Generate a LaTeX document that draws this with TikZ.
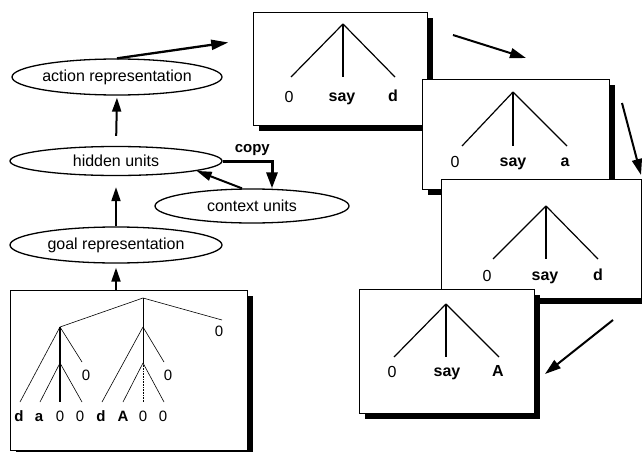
\documentclass[tikz,border=0pt]{standalone}
\usepackage{fontspec}
\setmainfont{Liberation Sans}
\usetikzlibrary{shapes.geometric,arrows.meta,shadows}

\begin{document}
\begin{tikzpicture}[x=1pt,y=-1pt,
  unit/.style={ellipse, draw, line width=1.3pt, inner sep=0pt, inner xsep=-2pt,
    font=\fontsize{16}{16}\selectfont},
  panel/.style={draw, line width=0.8pt, fill=white, inner sep=0pt, anchor=north west,
    drop shadow={shadow xshift=6pt, shadow yshift=-6pt, fill=black, opacity=1}},
  flow/.style={line width=2pt, -{Triangle[length=14pt,width=9pt]}},
  copyflow/.style={line width=3pt, -{Triangle[length=16pt,width=11pt]}},
  leg/.style={line width=1.2pt},
  twig/.style={line width=0.6pt},
  stem/.style={line width=1.1pt},
  num/.style={anchor=base, inner sep=0pt, font=\fontsize{16}{16}\selectfont},
  sym/.style={anchor=base, inner sep=0pt, font=\bfseries\fontsize{16}{16}\selectfont},
  tnum/.style={anchor=base, inner sep=0pt, font=\fontsize{15}{15}\selectfont},
  tsym/.style={anchor=base, inner sep=0pt, font=\bfseries\fontsize{15}{15}\selectfont},
]
\useasboundingbox (0,0) rectangle (642,452);

% ---------------- network ----------------
\node[unit, minimum width=210pt, minimum height=36pt] (act)  at (117,77)  {action representation};
\node[unit, minimum width=212pt, minimum height=29pt] (hid)  at (116,161) {hidden units};
\node[unit, minimum width=194pt, minimum height=34pt] (ctx)  at (252,206) {context units};
\node[unit, minimum width=212pt, minimum height=36pt] (goal) at (116,245) {goal representation};

% ---------------- goal structure ----------------
\node[panel, minimum width=237pt, minimum height=160pt] (goaltree) at (10,290) {};
\coordinate (r)  at (143,298);
\coordinate (l)  at (60,327);
\coordinate (li) at (60,363);
\coordinate (m)  at (143,327);
\coordinate (mi) at (143,363);
\draw[twig] (r) -- (l);
\draw[twig] (r) -- (m);
\draw[twig] (r) -- (222,320);
\draw[twig] (l) -- (20,402);
\draw[stem] (l) -- (li);
\draw[twig] (l) -- (82,362);
\draw[twig] (li) -- (40,402);
\draw[stem] (li) -- (60,402);
\draw[twig] (li) -- (82,402);
\draw[twig] (m) -- (102,402);
\draw[twig] (m) -- (mi);
\draw[twig] (m) -- (164,362);
\draw[twig] (mi) -- (123,402);
\draw[twig, densely dotted] (mi) -- (143,402);
\draw[twig] (mi) -- (164,402);
\node[tnum] (g0)  at (219,336) {0};
\node[tnum] (g1)  at (86,380)  {0};
\node[tnum] (g2)  at (168,380) {0};
\node[tsym] (g3)  at (19,421)  {d};
\node[tsym] (g4)  at (39,421)  {a};
\node[tnum] (g5)  at (60,421)  {0};
\node[tnum] (g6)  at (80,421)  {0};
\node[tsym] (g7)  at (101,421) {d};
\node[tsym] (g8)  at (123,421) {A};
\node[tnum] (g9)  at (143,421) {0};
\node[tnum] (g10) at (163,421) {0};

% ---------------- action sequence ----------------
\node[panel, minimum width=174pt, minimum height=113pt] (box1) at (253,12) {};
\draw[leg] (343,24) -- (291,77);
\draw[leg] (343,24) -- (343,77);
\draw[leg] (343,24) -- (395,77);
\node[num] (b1a) at (289,102) {0};
\node[sym] (b1b) at (342,101) {say};
\node[sym] (b1c) at (393,101) {d};

\node[panel, minimum width=187pt, minimum height=110pt] (box2) at (422,79) {};
\draw[leg] (513,92) -- (462,146);
\draw[leg] (513,92) -- (513,146);
\draw[leg] (513,92) -- (567,146);
\node[num] (b2a) at (455,167) {0};
\node[sym] (b2b) at (513,166) {say};
\node[sym] (b2c) at (565,166) {a};

\node[panel, minimum width=200pt, minimum height=119pt] (box3) at (441,179) {};
\draw[leg] (546,206) -- (493,259);
\draw[leg] (546,206) -- (546,259);
\draw[leg] (546,206) -- (598,259);
\node[num] (b3a) at (487,281) {0};
\node[sym] (b3b) at (545,280) {say};
\node[sym] (b3c) at (598,280) {d};

\node[panel, minimum width=175pt, minimum height=124pt] (box4) at (359,289) {};
\draw[leg] (446,304) -- (394,357);
\draw[leg] (446,304) -- (446,357);
\draw[leg] (446,304) -- (499,357);
\node[num] (b4a) at (392,377) {0};
\node[sym] (b4b) at (447,376) {say};
\node[sym] (b4c) at (498,376) {A};

% ---------------- connectors ----------------
\draw[flow, shorten >=4pt] (goal.south |- goaltree.north) -- (goal.south);
\draw[flow, shorten >=11pt] (goal.north) -- (hid.south);
\draw[flow, shorten <=10pt, shorten >=2pt] (hid.north) -- (act.south);
\draw[flow, line width=2.3pt, -{Triangle[length=17pt,width=10pt]}, shorten >=25pt]
  (act.north) -- ([yshift=30pt]box1.west);
\draw[copyflow] (hid.east) -| ([xshift=20pt]ctx.north)
  node[pos=0.3, above=1pt, font=\bfseries\fontsize{15}{15}\selectfont] (copylbl) {copy};
\draw[flow, -{Triangle[length=15pt,width=9pt]}] ([xshift=-10pt]ctx.north) -- (hid.-7);

\coordinate (s12) at (453,35);
\coordinate (e12) at (526,58);
\coordinate (s23) at (622,103);
\coordinate (e23) at (641,175);
\coordinate (s34) at (613,320);
\coordinate (e34) at (545,374);
\draw[flow, -{Triangle[length=16pt,width=10pt]}] (s12) -- (e12);
\draw[flow, -{Triangle[length=16pt,width=10pt]}] (s23) -- (e23);
\draw[flow, -{Triangle[length=16pt,width=10pt]}] (s34) -- (e34);
\end{tikzpicture}
\end{document}
